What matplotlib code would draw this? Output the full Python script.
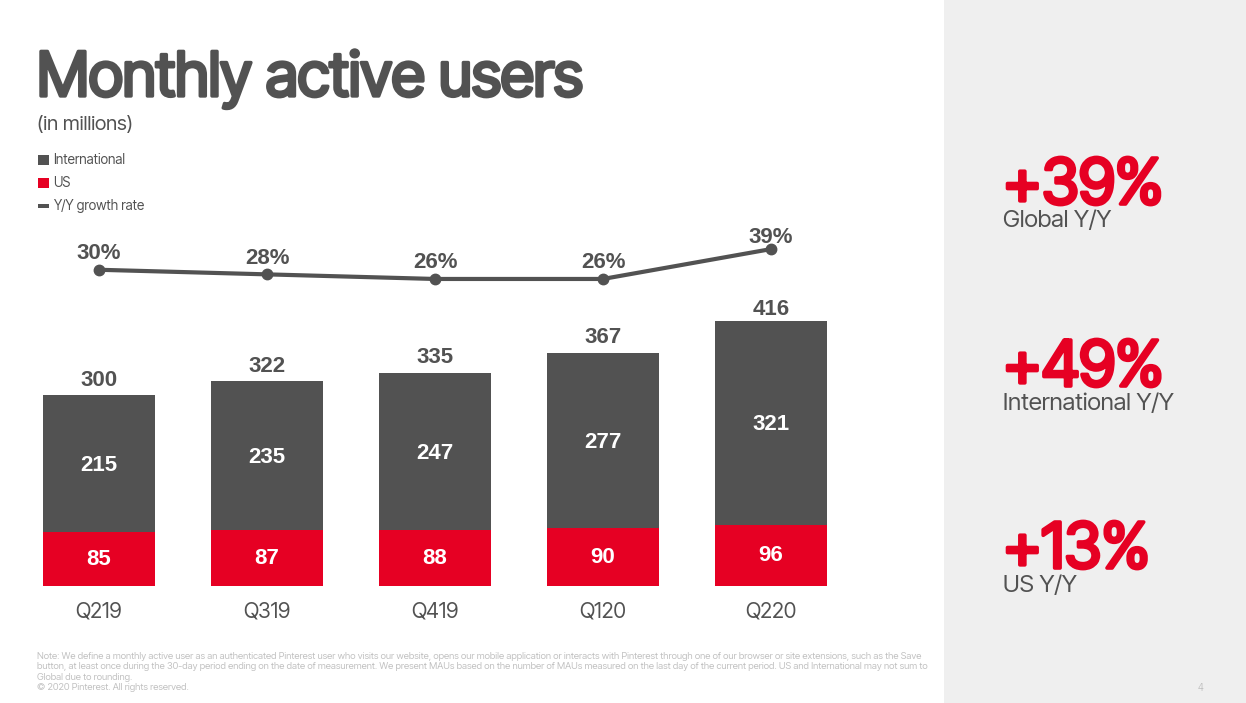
import numpy as np
import matplotlib
matplotlib.use("Agg")
import matplotlib.pyplot as plt
from matplotlib.patches import Rectangle
import matplotlib.patheffects as pe

plt.rcParams["font.family"] = ["Inter Tight", "Liberation Sans", "DejaVu Sans"]
BOLD = ["Liberation Sans", "DejaVu Sans"]

# data
quarters = ["Q219", "Q319", "Q419", "Q120", "Q220"]
us = [85, 87, 88, 90, 96]
intl = [215, 235, 247, 277, 321]
totals = [300, 322, 335, 367, 416]
growth = [30, 28, 26, 26, 39]
growth_labels = ["30%", "28%", "26%", "26%", "39%"]
side_big = ["+39%", "+49%", "+13%"]
side_small = ["Global Y/Y", "International Y/Y", "US Y/Y"]
note = ("Note: We define a monthly active user as an authenticated Pinterest user who visits our website, opens our mobile application or interacts with Pinterest through one of our browser or site extensions, such as the Save\n"
        "button, at least once during the 30-day period ending on the date of measurement. We present MAUs based on the number of MAUs measured on the last day of the current period. US and International may not sum to\n"
        "Global due to rounding.\n"
        "\u00a9 2020 Pinterest. All rights reserved.")

GREY = "#525252"
RED = "#e60023"
W, H = 1246, 703

fig = plt.figure(figsize=(W / 100, H / 100), dpi=100, facecolor="white")

# whole slide in pixel coords for the text and panels
bg = fig.add_axes([0, 0, 1, 1])
bg.set_xlim(0, W)
bg.set_ylim(H, 0)
bg.axis("off")
bg.add_patch(Rectangle((944, 0), W - 944, H, color="#efefef", lw=0))

# the tight font only has a regular weight here, so thicken it with a stroke
bg.text(37, 96, "Monthly active users", fontsize=44.2, color=GREY, va="baseline", ha="left",
        path_effects=[pe.withStroke(linewidth=2.4, foreground=GREY)])
bg.text(37, 125, "(in millions)", fontsize=14.6, color=GREY, va="center")

# legend
bg.add_patch(Rectangle((38, 155), 11, 10, color=GREY, lw=0))
bg.add_patch(Rectangle((38, 178), 11, 10, color=RED, lw=0))
bg.add_patch(Rectangle((38, 204), 11, 4, color=GREY, lw=0))
bg.text(53, 160, "International", fontsize=9.7, color=GREY, va="center")
bg.text(53, 183, "US", fontsize=9.7, color=GREY, va="center")
bg.text(53, 206, "Y/Y growth rate", fontsize=9.7, color=GREY, va="center")

# bars, 0.635 px per user million
ax = fig.add_axes([15 / W, 1 - 585.5 / H, 840 / W, 285.5 / H])
x = np.arange(len(quarters))
ax.bar(x, us, width=0.665, color=RED, edgecolor="none")
ax.bar(x, intl, width=0.665, bottom=us, color=GREY, edgecolor="none")
ax.set_xlim(-0.5, 4.5)
ax.set_ylim(0, 450)
ax.axis("off")
for i in x:
    ax.text(i, us[i] / 2 - 1, str(us[i]), color="white", fontsize=16, fontweight="bold", ha="center", va="center", family=BOLD)
    ax.text(i, us[i] + intl[i] / 2 - 3, str(intl[i]), color="white", fontsize=16, fontweight="bold", ha="center", va="center", family=BOLD)
    gap = 2.5 if i == 4 else 7.3
    ax.text(i, totals[i] + gap, str(totals[i]), color=GREY, fontsize=16, fontweight="bold", ha="center", va="bottom", family=BOLD)
    ax.text(i, -41, quarters[i], color=GREY, fontsize=15.3, ha="center", va="center", clip_on=False)

# growth line
ax2 = fig.add_axes([15 / W, 1 - 290 / H, 840 / W, 60 / H])
ax2.plot(x, growth, color=GREY, lw=3, marker="o", ms=7.5)
ax2.set_xlim(-0.5, 4.5)
ax2.set_ylim(21.2, 47.3)
ax2.axis("off")
for i in x:
    off = 1 if i == 4 else 4
    ax2.annotate(growth_labels[i], (i, growth[i]), xytext=(0, off), textcoords="offset points",
                 color=GREY, fontsize=16, fontweight="bold", ha="center", va="bottom", annotation_clip=False, family=BOLD)

# right panel
for y, big in zip([204, 386, 568], side_big):
    bg.text(1003, y, big, color=RED, fontsize=45.5, va="baseline",
            path_effects=[pe.withStroke(linewidth=2.6, foreground=RED)])
for y, small in zip([227, 410, 592], side_small):
    bg.text(1003, y, small, color=GREY, fontsize=17.4, va="baseline")

bg.text(37, 672, note, fontsize=6.9, color="#c2c2c2", va="center", linespacing=1.23)
bg.text(1201, 688, "4", fontsize=7, color="#c2c2c2", va="center", ha="center")

fig.savefig("out.png", dpi=100)
